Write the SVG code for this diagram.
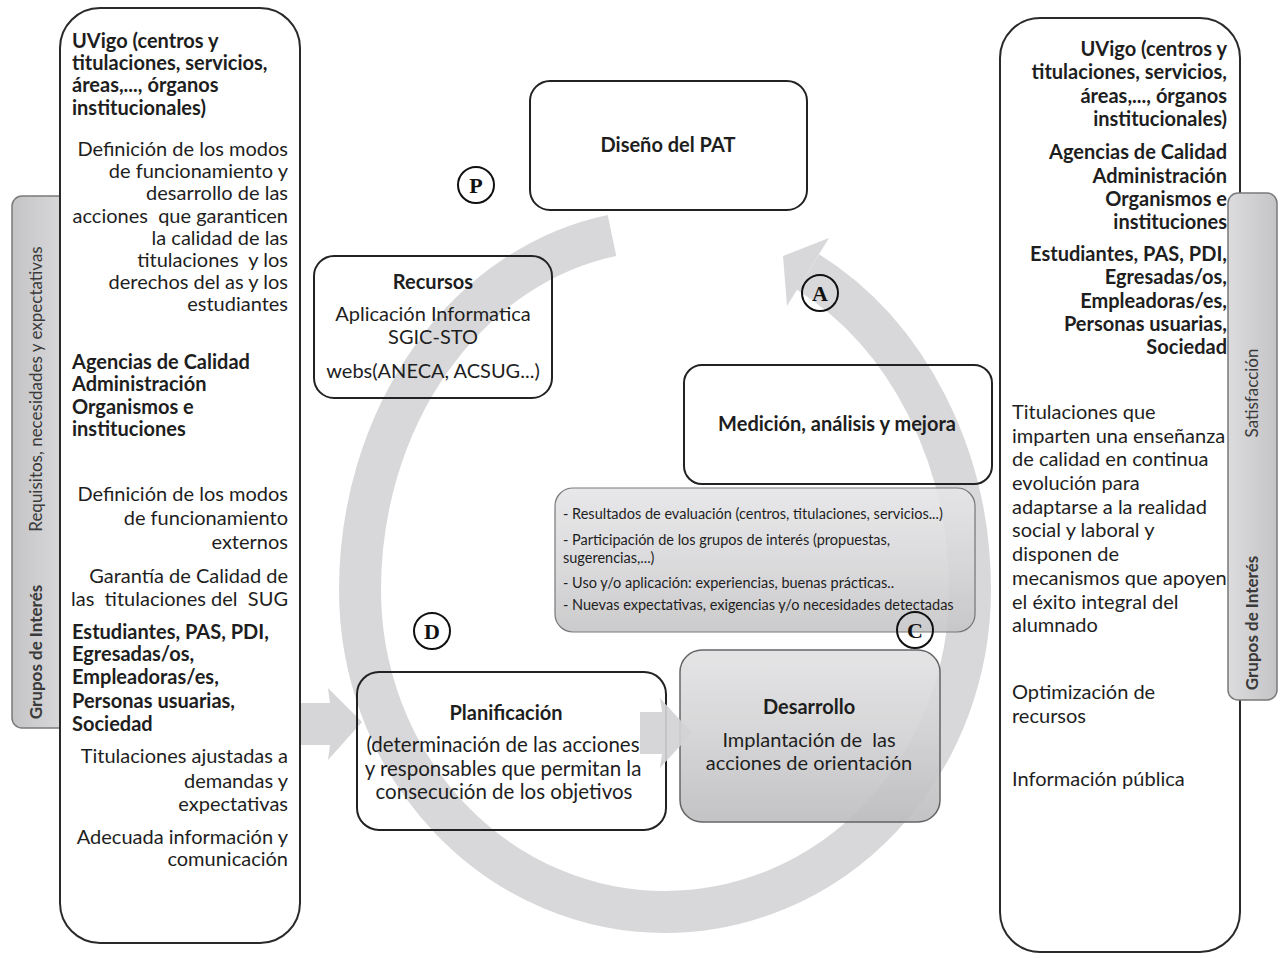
<svg xmlns="http://www.w3.org/2000/svg" width="1281" height="958" viewBox="0 0 1281 958">
<defs>
<linearGradient id="tabL" x1="0" y1="0" x2="1" y2="0"><stop offset="0" stop-color="#c4c4c6"/><stop offset="1" stop-color="#dcdcde"/></linearGradient>
<linearGradient id="tabR" x1="0" y1="0" x2="1" y2="0"><stop offset="0" stop-color="#dcdcde"/><stop offset="1" stop-color="#c4c4c6"/></linearGradient>
<linearGradient id="grayBox" x1="0" y1="0" x2="0" y2="1"><stop offset="0" stop-color="#e6e6e8"/><stop offset="0.5" stop-color="#d8d8da"/><stop offset="1" stop-color="#c6c6c8"/></linearGradient>
<linearGradient id="devBox" x1="0" y1="0" x2="0" y2="1"><stop offset="0" stop-color="#e2e2e4"/><stop offset="0.5" stop-color="#d2d2d4"/><stop offset="1" stop-color="#bdbdc0"/></linearGradient>
<style>
text{font-family:Lato,"Open Sans","Liberation Sans",sans-serif;fill:#1e1e1e}
.t{font-size:20px}
.b{font-size:20px;font-weight:bold}
.p{font-size:20.5px}
.e{text-anchor:end}
.m{text-anchor:middle}
.s{font-size:14.5px}
.tab{font-size:17px;fill:#3a3a3a}
.box{fill:none;stroke:#222;stroke-width:2}
.circ{fill:none;stroke:#111;stroke-width:2}
.let{font-family:"Liberation Serif",serif;font-weight:bold;font-size:22px;text-anchor:middle;fill:#111}
.ring{fill:none;stroke:#cfcfd2;stroke-width:42;opacity:0.82}
.blk{fill:#d3d3d5;opacity:0.92}
</style>
</defs>
<rect width="1281" height="958" fill="#ffffff"/>

<g id="connectors">
<path class="ring" d="M612 235.5 A305 360 0 0 0 360 590 A305 322 0 0 0 970 590 A305 360 0 0 0 808 272"/>
<polygon fill="#cfcfd2" opacity="0.82" points="829,238 783,256 787,306"/>
<polygon class="blk" points="300,703 330,703 328,688 362,722 328,760 330,745 300,745"/>
</g>

<g id="left-panel">
<rect x="12" y="196" width="60" height="532" rx="10" fill="url(#tabL)" stroke="#7a7a7a" stroke-width="1.5"/>
<text class="tab m" transform="translate(42 389) rotate(-90)">Requisitos, necesidades y expectativas</text>
<text class="tab m" font-weight="bold" transform="translate(42 652) rotate(-90)">Grupos de Interés</text>
<rect x="60" y="8" width="240" height="935" rx="40" fill="#ffffff" stroke="#2a2a2a" stroke-width="2"/>
<text class="b" x="72" y="48">UVigo (centros y</text>
<text class="b" x="72" y="70">titulaciones, servicios,</text>
<text class="b" x="72" y="92">áreas,..., órganos</text>
<text class="b" x="72" y="115">institucionales)</text>
<text class="t e" x="288" y="156">Definición de los modos</text>
<text class="t e" x="288" y="178">de funcionamiento y</text>
<text class="t e" x="288" y="200">desarrollo de las</text>
<text class="t e" x="288" y="223" xml:space="preserve">acciones  que garanticen</text>
<text class="t e" x="288" y="245">la calidad de las</text>
<text class="t e" x="288" y="267" xml:space="preserve">titulaciones  y los</text>
<text class="t e" x="288" y="289">derechos del as y los</text>
<text class="t e" x="288" y="311">estudiantes</text>
<text class="b" x="72" y="369">Agencias de Calidad</text>
<text class="b" x="72" y="391">Administración</text>
<text class="b" x="72" y="414">Organismos e</text>
<text class="b" x="72" y="436">instituciones</text>
<text class="t e" x="288" y="501">Definición de los modos</text>
<text class="t e" x="288" y="525">de funcionamiento</text>
<text class="t e" x="288" y="549">externos</text>
<text class="t e" x="288" y="583">Garantía de Calidad de</text>
<text class="t e" x="288" y="606" xml:space="preserve">las  titulaciones del  SUG</text>
<text class="b" x="72" y="639">Estudiantes, PAS, PDI,</text>
<text class="b" x="72" y="661">Egresadas/os,</text>
<text class="b" x="72" y="684">Empleadoras/es,</text>
<text class="b" x="72" y="708">Personas usuarias,</text>
<text class="b" x="72" y="731">Sociedad</text>
<text class="t e" x="288" y="763">Titulaciones ajustadas a</text>
<text class="t e" x="288" y="788">demandas y</text>
<text class="t e" x="288" y="811">expectativas</text>
<text class="t e" x="288" y="844">Adecuada información y</text>
<text class="t e" x="288" y="866">comunicación</text>
</g>

<g id="right-panel">
<rect x="1000" y="18" width="240" height="934" rx="40" fill="#ffffff" stroke="#2a2a2a" stroke-width="2"/>
<rect x="1228" y="193" width="49" height="507" rx="10" fill="url(#tabR)" stroke="#7a7a7a" stroke-width="1.5"/>
<text class="tab m" transform="translate(1258 393) rotate(-90)">Satisfacción</text>
<text class="tab m" font-weight="bold" transform="translate(1258 623) rotate(-90)">Grupos de Interés</text>
<text class="b e" x="1227" y="56">UVigo (centros y</text>
<text class="b e" x="1227" y="79">titulaciones, servicios,</text>
<text class="b e" x="1227" y="103">áreas,..., órganos</text>
<text class="b e" x="1227" y="126">institucionales)</text>
<text class="b e" x="1227" y="159">Agencias de Calidad</text>
<text class="b e" x="1227" y="183">Administración</text>
<text class="b e" x="1227" y="206">Organismos e</text>
<text class="b e" x="1227" y="229">instituciones</text>
<text class="b e" x="1227" y="261">Estudiantes, PAS, PDI,</text>
<text class="b e" x="1227" y="284">Egresadas/os,</text>
<text class="b e" x="1227" y="308">Empleadoras/es,</text>
<text class="b e" x="1227" y="331">Personas usuarias,</text>
<text class="b e" x="1227" y="354">Sociedad</text>
<text class="t" x="1012" y="419">Titulaciones que</text>
<text class="t" x="1012" y="443">imparten una enseñanza</text>
<text class="t" x="1012" y="466">de calidad en continua</text>
<text class="t" x="1012" y="490">evolución para</text>
<text class="t" x="1012" y="514">adaptarse a la realidad</text>
<text class="t" x="1012" y="537">social y laboral y</text>
<text class="t" x="1012" y="561">disponen de</text>
<text class="t" x="1012" y="585">mecanismos que apoyen</text>
<text class="t" x="1012" y="609">el éxito integral del</text>
<text class="t" x="1012" y="632">alumnado</text>
<text class="t" x="1012" y="699">Optimización de</text>
<text class="t" x="1012" y="723">recursos</text>
<text class="t" x="1012" y="786">Información pública</text>
</g>

<g id="diseno">
<rect class="box" x="530" y="81" width="277" height="129" rx="20"/>
<text class="b m" x="668" y="152">Diseño del PAT</text>
</g>

<g id="recursos">
<rect class="box" x="314" y="256" width="238" height="142" rx="20"/>
<text class="b m" x="433" y="289">Recursos</text>
<text class="t m" x="433" y="321">Aplicación Informatica</text>
<text class="t m" x="433" y="344">SGIC-STO</text>
<text class="t m" x="433" y="378">webs(ANECA, ACSUG...)</text>
</g>

<g id="medicion">
<rect class="box" x="684" y="365" width="308" height="119" rx="18"/>
<text class="b m" x="837" y="431">Medición, análisis y mejora</text>
</g>

<g id="resultados">
<rect x="555" y="488" width="420" height="144" rx="18" fill="url(#grayBox)" opacity="0.9" stroke="#6a6a6a" stroke-width="1.2"/>
<text class="s" x="563" y="519">- Resultados de evaluación (centros, titulaciones, servicios...)</text>
<text class="s" x="563" y="545">- Participación de los grupos de interés (propuestas,</text>
<text class="s" x="563" y="563">sugerencias,...)</text>
<text class="s" x="563" y="588">- Uso y/o aplicación: experiencias, buenas prácticas..</text>
<text class="s" x="563" y="610">- Nuevas expectativas, exigencias y/o necesidades detectadas</text>
</g>

<g id="planificacion">
<rect class="box" x="357" y="672" width="309" height="158" rx="22"/>
<text class="b m" x="506" y="720">Planificación</text>
<text class="p m" x="503" y="752">(determinación de las acciones</text>
<text class="p m" x="503" y="776">y responsables que permitan la</text>
<text class="p m" x="504" y="799">consecución de los objetivos</text>
</g>

<g id="desarrollo">
<rect x="680" y="650" width="260" height="172" rx="22" fill="url(#devBox)" opacity="0.9" stroke="#555" stroke-width="1.5"/>
<text class="b m" x="809" y="714">Desarrollo</text>
<text class="t m" x="809" y="747" xml:space="preserve">Implantación de  las</text>
<text class="t m" x="809" y="770">acciones de orientación</text>
</g>

<g id="flecha-plan-desarrollo">
<polygon class="blk" points="640,712 662,712 660,698 692,733 660,768 662,754 640,754"/>
</g>

<g id="letra-P"><circle class="circ" cx="476" cy="185" r="18"/><text class="let" x="476" y="193">P</text></g>
<g id="letra-A"><circle class="circ" cx="820" cy="293" r="18"/><text class="let" x="820" y="301">A</text></g>
<g id="letra-C"><circle class="circ" cx="915" cy="630" r="18"/><text class="let" x="915" y="638">C</text></g>
<g id="letra-D"><circle class="circ" cx="432" cy="631" r="18"/><text class="let" x="432" y="639">D</text></g>
</svg>
